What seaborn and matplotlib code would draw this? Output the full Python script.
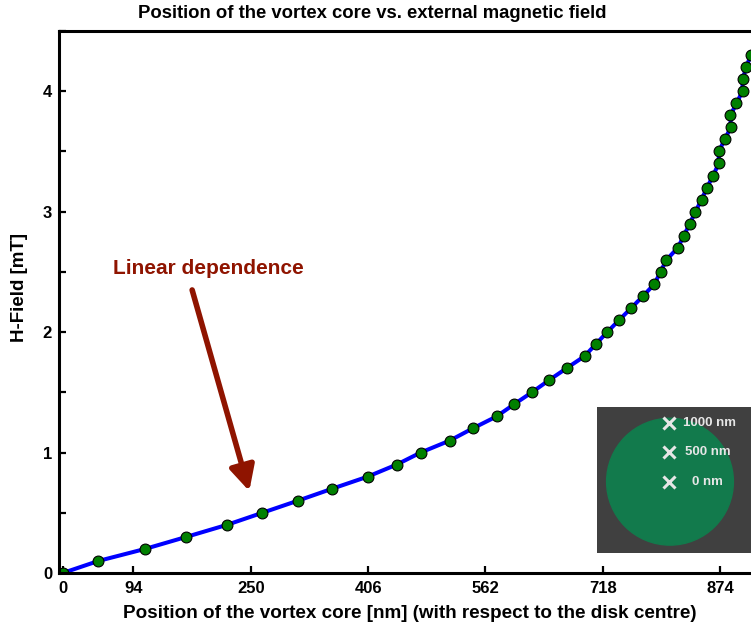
import numpy as np
import pandas as pd
import matplotlib
matplotlib.use("Agg")
import matplotlib.pyplot as plt
import seaborn as sns
from matplotlib.patches import Circle
from matplotlib.ticker import MultipleLocator

# ---------------- data ----------------
position_nm = [0, 47.4, 109.5, 164.4, 218.4, 265.4, 312.4, 358.3, 405.4, 443.9,
               475.8, 514.7, 544.9, 576.8, 599.8, 623.7, 646.3, 669.8, 693.7, 708.7,
               723.8, 739.7, 755.7, 771.6, 786.7, 794.7, 802.6, 817.7, 825.7, 833.6,
               841.2, 849.2, 856.6, 864.6, 872.2, 872.2, 880.1, 888.1, 887.7, 895.7,
               903.7, 903.7, 909.0, 914.4]
h_field_mT = [0.0, 0.1, 0.2, 0.3, 0.4, 0.5, 0.6, 0.7, 0.8, 0.9,
              1.0, 1.1, 1.2, 1.3, 1.4, 1.5, 1.6, 1.7, 1.8, 1.9,
              2.0, 2.1, 2.2, 2.3, 2.4, 2.5, 2.6, 2.7, 2.8, 2.9,
              3.0, 3.1, 3.2, 3.3, 3.4, 3.5, 3.6, 3.7, 3.8, 3.9,
              4.0, 4.1, 4.2, 4.3]
x_ticks = [0, 94, 250, 406, 562, 718, 874]
y_ticks = [0, 1, 2, 3, 4]
inset_labels = ["1000 nm", "500 nm", "0 nm"]

title = "Position of the vortex core vs. external magnetic field"
xlabel = "Position of the vortex core [nm] (with respect to the disk centre)"
ylabel = "H-Field [mT]"
annotation = "Linear dependence"

df = pd.DataFrame({"pos": position_nm, "H": h_field_mT})

# ---------------- style ----------------
sns.set_style("white")
plt.rcParams["font.family"] = ["Liberation Sans", "DejaVu Sans"]
plt.rcParams["font.weight"] = "bold"
plt.rcParams["text.color"] = "black"
plt.rcParams["axes.labelcolor"] = "black"
plt.rcParams["xtick.color"] = "black"
plt.rcParams["ytick.color"] = "black"

W, H = 751, 631
fig = plt.figure(figsize=(W / 100, H / 100), dpi=100)
ax = fig.add_axes([59 / W, (H - 573) / H, (W - 59) / W, (573 - 31) / H])

sns.lineplot(data=df, x="pos", y="H", ax=ax, estimator=None, sort=False,
             color="#0000ff", linewidth=2.9, marker="o", markersize=7.8,
             markerfacecolor="#008000", markeredgecolor="black",
             markeredgewidth=0.8)

ax.set_xlim(-5, 915)
ax.set_ylim(0, 4.5)
ax.set_xticks(x_ticks)
ax.set_xticklabels([str(t) for t in x_ticks])
ax.set_yticks(y_ticks)
ax.yaxis.set_minor_locator(MultipleLocator(0.5))

for side in ["left", "bottom", "top"]:
    ax.spines[side].set_linewidth(2.2)
    ax.spines[side].set_color("black")
ax.spines["right"].set_visible(False)

ax.tick_params(axis="both", which="both", direction="in", length=5, width=1.6,
               colors="black", labelcolor="black", labelsize=12)
ax.tick_params(axis="x", which="both", bottom=True, top=False, pad=6)
ax.tick_params(axis="y", which="both", left=True, right=False, pad=5)
for lbl in ax.get_xticklabels() + ax.get_yticklabels():
    lbl.set_fontweight("bold")

ax.set_xlabel(xlabel, fontsize=13.6, fontweight="bold", color="black")
ax.set_ylabel(ylabel, fontsize=13.5, fontweight="bold", color="black")
ax.xaxis.set_label_coords((410 - 59) / (W - 59), -(605 - 573) / (573 - 31))
ax.yaxis.set_label_coords(-(59 - 28) / (W - 59), (573 - 288) / (573 - 31))

fig.text(372 / W, 1 - 14 / H, title, ha="center", va="center",
         fontsize=13.3, fontweight="bold", color="black")

# annotation
dark_red = "#8f1400"
ax.text(67, 2.53, annotation, color=dark_red, fontsize=15, fontweight="bold",
        ha="left", va="center")
ax.annotate("", xy=(248, 0.68), xytext=(172, 2.35),
            arrowprops=dict(arrowstyle="-|>,head_length=0.75,head_width=0.38",
                            lw=4.0, color=dark_red, shrinkA=0, shrinkB=0,
                            mutation_scale=20))

# inset
ix0, iy0, ix1, iy1 = 596.7, 407.0, 751.0, 552.7
iax = fig.add_axes([ix0 / W, (H - iy1) / H, (ix1 - ix0) / W, (iy1 - iy0) / H])
iax.set_facecolor("#404040")
iax.set_xlim(0, ix1 - ix0)
iax.set_ylim(iy1 - iy0, 0)
iax.set_xticks([])
iax.set_yticks([])
for s in iax.spines.values():
    s.set_visible(False)
iax.add_patch(Circle((670 - ix0, 481.7 - iy0), 63.4, color="#127a4c"))
ys = [422.7 - iy0, 452.3 - iy0, 482.0 - iy0]
xs_text = [682.7 - ix0, 685.0 - ix0, 691.7 - ix0]
for yv, xt, lab in zip(ys, xs_text, inset_labels):
    iax.plot([669 - ix0], [yv], marker="x", color="#e6e6e6", markersize=8,
             markeredgewidth=2.2)
    iax.text(xt, yv, lab, color="#e6e6e6", fontsize=9.5, fontweight="bold",
             ha="left", va="center")

fig.savefig("out.png", dpi=100)
